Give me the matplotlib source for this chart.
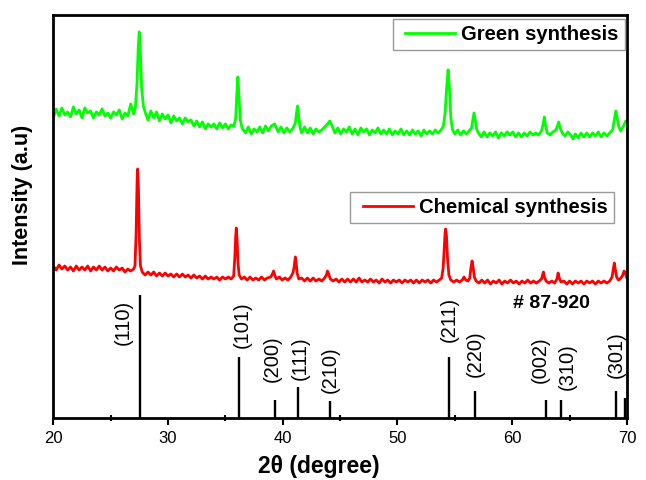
import matplotlib
matplotlib.use("Agg")
import matplotlib.pyplot as plt
from matplotlib.ticker import MultipleLocator
from matplotlib.legend_handler import HandlerLine2D
from matplotlib.lines import Line2D

plt.rcParams['font.family'] = ['Liberation Sans', 'DejaVu Sans']

# Green synthesis trace (2theta, intensity in arbitrary units) -------------#
green_tt = [
    20.0, 20.25, 20.5, 20.75, 21.0, 21.25, 21.5, 21.75, 22.0, 22.25, 22.5, 22.75,
    23.0, 23.25, 23.5, 23.75, 24.0, 24.25, 24.5, 24.75, 25.0, 25.25, 25.5, 25.75,
    26.0, 26.25, 26.5, 26.75, 27.0,
    27.15, 27.3, 27.4, 27.49, 27.58, 27.7, 27.85, 28.0,
    28.25, 28.5, 28.75, 29.0, 29.25, 29.5, 29.75, 30.0, 30.25, 30.5, 30.75, 31.0,
    31.25, 31.5, 31.75, 32.0, 32.25, 32.5, 32.75, 33.0, 33.25, 33.5, 33.75, 34.0,
    34.25, 34.5, 34.75, 35.0, 35.25, 35.5, 35.75,
    35.9, 36.0, 36.09, 36.18, 36.3, 36.45,
    36.75, 37.0, 37.25, 37.5, 37.75, 38.0, 38.25, 38.5, 38.75, 39.0, 39.3, 39.6,
    39.85, 40.1, 40.35, 40.6, 40.85,
    41.1, 41.2, 41.29, 41.38, 41.5, 41.65,
    41.9, 42.15, 42.4, 42.65, 42.9, 43.15, 43.4, 43.65, 43.9, 44.1, 44.3, 44.55,
    44.8, 45.05, 45.3, 45.55, 45.8, 46.05, 46.3, 46.55, 46.8, 47.05, 47.3, 47.55,
    47.8, 48.05, 48.3, 48.55, 48.8, 49.05, 49.3, 49.55, 49.8, 50.05, 50.3, 50.55,
    50.8, 51.05, 51.3, 51.55, 51.8, 52.05, 52.3, 52.55, 52.8, 53.05, 53.3, 53.55,
    53.8, 54.0,
    54.15, 54.28, 54.41, 54.52, 54.65, 54.8,
    55.0, 55.25, 55.5, 55.75, 56.0, 56.25, 56.45,
    56.57, 56.67, 56.77, 56.9, 57.05,
    57.3, 57.55, 57.8, 58.05, 58.3, 58.55, 58.8, 59.05, 59.3, 59.55, 59.8, 60.05,
    60.3, 60.55, 60.8, 61.05, 61.3, 61.55, 61.8, 62.05, 62.3, 62.55,
    62.7, 62.8, 62.9, 63.05,
    63.3, 63.55, 63.8,
    63.95, 64.05, 64.15, 64.35,
    64.6, 64.85, 65.1, 65.3, 65.5, 65.75, 66.0, 66.25, 66.5, 66.75, 67.0, 67.25,
    67.5, 67.75, 68.0, 68.25, 68.5, 68.75,
    68.88, 69.03, 69.15, 69.3, 69.45, 69.6, 69.75, 69.9, 70.0,
]
green_int = [
    300, 309, 302, 310, 303, 306, 301, 311, 304, 308, 300, 310,
    305, 307, 300, 306, 303, 309, 302, 305, 300, 306, 303, 308,
    299, 305, 302, 314, 304,
    310, 335, 370, 386, 368, 330, 312, 306,
    298, 307, 300, 306, 297, 304, 299, 303, 295, 302, 297, 300,
    294, 300, 296, 298, 292, 297, 291, 296, 289, 294, 291, 294,
    289, 295, 290, 294, 289, 293, 292,
    300, 325, 341, 322, 298, 290,
    285, 291, 284, 289, 286, 291, 285, 292, 287, 292, 294, 286,
    291, 285, 290, 286, 289,
    295, 305, 312, 303, 291, 285,
    291, 285, 290, 284, 289, 286, 288, 291, 294, 297, 292, 285,
    290, 284, 289, 286, 291, 284, 289, 283, 290, 286, 289, 283,
    288, 285, 290, 284, 288, 284, 289, 283, 287, 284, 289, 283,
    287, 283, 288, 284, 287, 282, 288, 284, 287, 284, 288, 285,
    288, 292,
    305, 330, 348, 332, 300, 288,
    284, 288, 283, 287, 284, 287, 290,
    298, 305, 298, 289, 285,
    281, 286, 281, 285, 282, 286, 280, 285, 282, 286, 283, 286,
    281, 285, 281, 285, 282, 286, 283, 285, 283, 287,
    294, 301, 293, 285,
    283, 286, 288,
    292, 296, 291, 285,
    282, 286, 283, 279, 284, 280, 285, 281, 285, 281, 285, 282,
    286, 281, 285, 282, 285, 288,
    297, 307, 300, 291, 287, 290, 293, 297, 295,
]

# Chemical synthesis trace -------------------------------------------------#
chem_tt = [
    20.0, 20.25, 20.5, 20.75, 21.0, 21.25, 21.5, 21.75, 22.0, 22.25, 22.5, 22.75,
    23.0, 23.25, 23.5, 23.75, 24.0, 24.25, 24.5, 24.75, 25.0, 25.25, 25.5, 25.75,
    26.0, 26.25, 26.5, 26.75, 27.0,
    27.12, 27.22, 27.3, 27.35, 27.42, 27.5, 27.6, 27.75,
    28.0, 28.25, 28.5, 28.75, 29.0, 29.25, 29.5, 29.75, 30.0, 30.25, 30.5, 30.75,
    31.0, 31.25, 31.5, 31.75, 32.0, 32.25, 32.5, 32.75, 33.0, 33.25, 33.5, 33.75,
    34.0, 34.25, 34.5, 34.75, 35.0, 35.25, 35.5, 35.72,
    35.82, 35.9, 35.95, 36.02, 36.1, 36.2,
    36.4, 36.65, 36.9, 37.15, 37.4, 37.65, 37.9, 38.15, 38.4, 38.65, 38.95, 39.1,
    39.2, 39.3, 39.45, 39.7, 39.95, 40.2, 40.45, 40.7, 40.88,
    40.98, 41.04, 41.1, 41.17, 41.25, 41.4,
    41.65, 41.9, 42.15, 42.4, 42.65, 42.9, 43.15, 43.4, 43.65, 43.8, 43.9, 44.0,
    44.15, 44.4, 44.65, 44.9, 45.15, 45.4, 45.65, 45.9, 46.15, 46.4, 46.65, 46.9,
    47.15, 47.4, 47.65, 47.9, 48.15, 48.4, 48.65, 48.9, 49.15, 49.4, 49.65, 49.9,
    50.15, 50.4, 50.65, 50.9, 51.15, 51.4, 51.65, 51.9, 52.15, 52.4, 52.65, 52.9,
    53.15, 53.4, 53.65, 53.85,
    53.98, 54.08, 54.15, 54.2, 54.27, 54.36, 54.48, 54.65,
    54.9, 55.15, 55.4, 55.65, 55.8, 55.95, 56.15, 56.3,
    56.4, 56.5, 56.58, 56.7, 56.85,
    57.1, 57.35, 57.6, 57.85, 58.1, 58.35, 58.6, 58.85, 59.1, 59.35, 59.6, 59.85,
    60.1, 60.35, 60.6, 60.85, 61.1, 61.35, 61.6, 61.85, 62.1, 62.35, 62.55,
    62.65, 62.72, 62.8, 62.95,
    63.2, 63.45, 63.7, 63.9,
    64.0, 64.1, 64.25,
    64.5, 64.75, 65.0, 65.25, 65.5, 65.75, 66.0, 66.25, 66.5, 66.75, 67.0, 67.25,
    67.5, 67.75, 68.0, 68.25, 68.5, 68.7,
    68.8, 68.9, 68.98, 69.1, 69.25, 69.4, 69.6, 69.75, 69.85, 70.0,
]
chem_int = [
    152, 148, 153, 149, 152, 148, 151, 147, 152, 148, 151, 148,
    152, 147, 151, 148, 152, 148, 151, 147, 150, 147, 151, 148,
    150, 146, 149, 147, 149,
    152, 185, 235, 249, 230, 180, 152, 146,
    143, 146, 143, 146, 142, 145, 142, 145, 142, 144, 141, 144,
    141, 144, 141, 143, 140, 143, 140, 142, 139, 142, 139, 141,
    139, 141, 138, 141, 139, 141, 139, 142,
    160, 182, 190, 178, 155, 143,
    139, 141, 138, 141, 138, 140, 138, 141, 138, 140, 141, 144,
    147, 143, 139, 141, 138, 140, 138, 141, 145,
    150, 156, 161, 155, 145, 139,
    140, 137, 140, 137, 140, 137, 139, 137, 140, 143, 147, 144,
    139, 137, 139, 136, 139, 136, 139, 136, 139, 136, 140, 136,
    138, 136, 139, 136, 138, 135, 139, 136, 138, 135, 138, 136,
    138, 135, 138, 136, 138, 135, 138, 135, 138, 136, 138, 135,
    138, 136, 138, 140,
    150, 170, 185, 189, 182, 160, 143, 138,
    136, 138, 136, 138, 141, 138, 137, 140,
    150, 157, 152, 141, 137,
    135, 138, 135, 138, 134, 137, 135, 138, 134, 137, 135, 138,
    135, 137, 134, 137, 135, 138, 135, 137, 135, 137, 139,
    143, 146, 141, 137,
    135, 137, 135, 139,
    145, 140, 136,
    137, 134, 137, 134, 137, 135, 137, 134, 137, 135, 137, 134,
    137, 135, 137, 135, 137, 141,
    148, 155, 149, 141, 138, 139, 142, 147, 145, 140,
]

# Reference pattern # 87-920 ----------------------------------------------#
ref_tt  = [27.54, 36.18, 39.29, 41.36, 44.16, 54.48, 56.8, 62.98, 64.22, 69.05, 69.85]
ref_int = [100, 50, 15, 25, 14, 50, 22, 15, 15, 22, 16]
ref_hkl = ['(110)', '(101)', '(200)', '(111)', '(210)', '(211)', '(220)',
           '(002)', '(310)', '(301)', '']
# where each hkl label sits (x centre, bottom of text)
lab_x = [26.1, 36.45, 39.1, 41.5, 44.1, 54.5, 56.8, 62.45, 64.8, 69.1, 0]
lab_y = [73, 70, 36, 38, 25, 76, 41, 35, 28, 40, 0]

card = '# 87-920'
scale = 1.23   # stick height per % intensity

# Plot ---------------------------------------------------------------------#
fig = plt.figure(figsize=(6.46, 4.8), dpi=100)
ax = fig.add_axes([0.0825, 0.129, 0.888, 0.840])

l_green, = ax.plot(green_tt, green_int, color='#00ff00', lw=2.0, label='Green synthesis')
l_chem, = ax.plot(chem_tt, chem_int, color='#ff0000', lw=2.0, label='Chemical synthesis')

ax.vlines(ref_tt, 0, [v * scale for v in ref_int], color='black', lw=1.7)
for x, y, s in zip(lab_x, lab_y, ref_hkl):
    if s:
        ax.text(x, y, s, rotation=90, ha='center', va='bottom', fontsize=14.5)
ax.text(60.05, 115, card, fontsize=14, fontweight='bold', va='center', ha='left')

ax.set_xlim(20, 70)
ax.set_ylim(0, 403)
ax.set_yticks([])
ax.xaxis.set_major_locator(MultipleLocator(10))
ax.xaxis.set_minor_locator(MultipleLocator(5))
ax.tick_params(axis='x', which='major', direction='out', length=5, width=1.5,
               labelsize=12, pad=4)
ax.tick_params(axis='x', which='minor', direction='inout', length=4, width=1.5)
for sp in ax.spines.values():
    sp.set_linewidth(2.0)

ax.set_xlabel('2θ (degree)', fontsize=16.5, fontweight='bold')
ax.xaxis.set_label_coords(0.462, -0.092)
ax.xaxis.label.set_va('top')
ax.set_ylabel('Intensity (a.u)', fontsize=15.5, fontweight='bold')
ax.yaxis.set_label_coords(-0.035, 0.553)

leg_kw = dict(loc='upper right', fancybox=False, framealpha=1, edgecolor='#999999',
              borderaxespad=0, borderpad=0.3, handlelength=2.8, handletextpad=0.3,
              prop={'size': 14.6, 'weight': 'bold'},
              handler_map={Line2D: HandlerLine2D(xpad=0.32)})
leg1 = ax.legend(handles=[l_green], bbox_to_anchor=(0.9965, 0.99), **leg_kw)
leg1.get_frame().set_linewidth(1.0)
ax.add_artist(leg1)
leg2 = ax.legend(handles=[l_chem], bbox_to_anchor=(0.977, 0.561), **leg_kw)
leg2.get_frame().set_linewidth(1.0)

fig.savefig('out.png', dpi=100)
